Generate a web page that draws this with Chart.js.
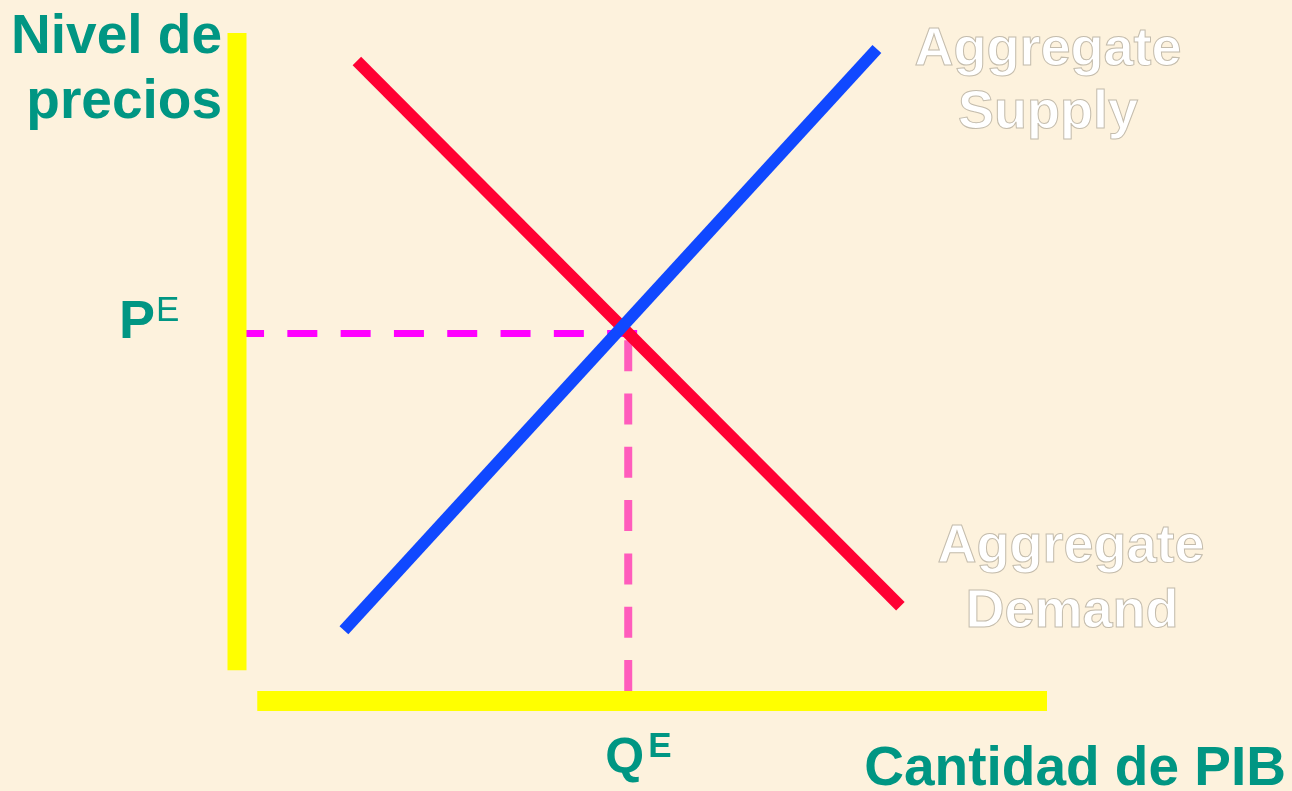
<!DOCTYPE html>
<html>
<head>
<meta charset="utf-8">
<script src="https://cdn.jsdelivr.net/npm/chart.js@4"></script>
<style>
  html, body { margin: 0; padding: 0; background: #FDF2DD; }
  canvas { display: block; }
</style>
</head>
<body>
<canvas id="grafico" width="1292" height="791"></canvas>
<script>
// Oferta y demanda agregada
const demandaQ = [1.48, 8.19];
const demandaP = [9.58, 1.42];
const ofertaQ = [1.32, 7.90];
const ofertaP = [1.06, 9.76];
const equilibrioQ = 4.83;
const equilibrioP = 5.5;
const ejeXQ = [0.25, 10];   // barra amarilla horizontal
const ejeYP = [0.46, 10];   // barra amarilla vertical
const finGuiaQ = 4.94;      // extremo derecho de la guia horizontal
const finGuiaP = 0.15;      // extremo inferior de la guia vertical

const teal = '#009683';

function linea(xs, ys, color, ancho, dash) {
  return {
    data: xs.map((x, i) => ({ x: x, y: ys[i] })),
    showLine: true,
    borderColor: color,
    borderWidth: ancho,
    borderDash: dash || [],
    borderCapStyle: 'butt',
    pointRadius: 0,
    clip: false
  };
}

const textos = {
  id: 'textos',
  beforeDraw(chart) {
    const c = chart.ctx;
    c.save();
    c.fillStyle = '#FDF2DD';
    c.fillRect(0, 0, chart.width, chart.height);
    c.restore();
  },
  afterDraw(chart) {
    const c = chart.ctx;
    const xs = chart.scales.x, ys = chart.scales.y;
    c.save();
    c.fillStyle = teal;
    c.textBaseline = 'alphabetic';

    c.font = 'bold 55px "Liberation Sans", Arial, sans-serif';
    c.textAlign = 'right';
    c.fillText('Nivel de', 222, 53);
    c.fillText('precios', 222, 118);
    c.fillText('Cantidad de PIB', 1286, 785);

    // P^E
    const py = ys.getPixelForValue(equilibrioP);
    c.textAlign = 'left';
    c.font = 'bold 54px "Liberation Sans", Arial, sans-serif';
    c.fillText('P', 119, py + 4);
    c.font = '35px "Liberation Sans", Arial, sans-serif';
    c.fillText('E', 156, py - 13);

    // Q^E
    const qx = xs.getPixelForValue(equilibrioQ);
    c.font = 'bold 50px "Liberation Sans", Arial, sans-serif';
    c.fillText('Q', qx - 23, 773);
    c.font = 'bold 35px "Liberation Sans", Arial, sans-serif';
    c.fillText('E', qx + 20, 757);

    // etiquetas de las curvas
    c.font = 'bold 54px "Liberation Sans", Arial, sans-serif';
    c.textAlign = 'center';
    c.fillStyle = '#FFFFFF';
    c.strokeStyle = '#C4BCAC';
    c.lineWidth = 1;
    const etiquetas = [
      ['Aggregate', 1048, 65], ['Supply', 1048, 128],
      ['Aggregate', 1071, 562], ['Demand', 1072, 627]
    ];
    etiquetas.forEach(([t, x, y]) => {
      c.fillText(t, x, y);
      c.strokeText(t, x, y);
    });
    c.restore();
  }
};

new Chart(document.getElementById('grafico'), {
  type: 'scatter',
  data: {
    datasets: [
      linea([0, 0], ejeYP, '#FFFF00', 19),
      linea(ejeXQ, [0, 0], '#FFFF00', 20),
      linea(ofertaQ, ofertaP, '#1048FF', 12),
      linea(demandaQ, demandaP, '#FF0033', 12),
      linea([finGuiaQ, 0], [equilibrioP, equilibrioP], '#FF00FF', 7, [30, 23.3]),
      linea([equilibrioQ, equilibrioQ], [finGuiaP, equilibrioP], '#FF5CBC', 8, [31, 22.3])
    ]
  },
  options: {
    responsive: false,
    animation: false,
    layout: { padding: { left: 237, right: 245, top: 33, bottom: 90 } },
    scales: {
      x: { type: 'linear', min: 0, max: 10, display: false },
      y: { type: 'linear', min: 0, max: 10, display: false }
    },
    plugins: {
      legend: { display: false },
      tooltip: { enabled: false }
    }
  },
  plugins: [textos]
});
</script>
</body>
</html>
